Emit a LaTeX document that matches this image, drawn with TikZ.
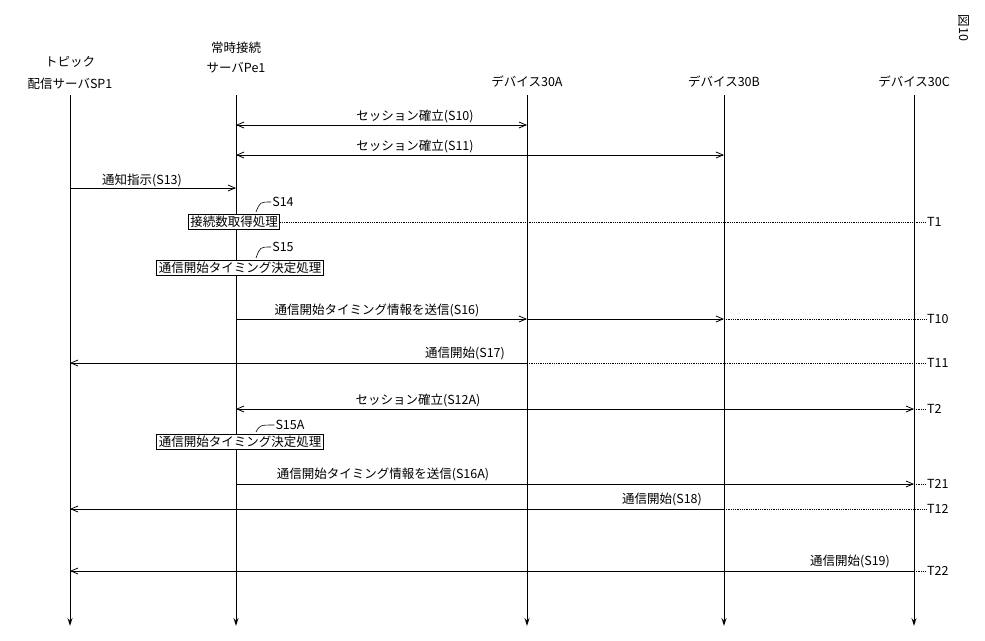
\documentclass[tikz,border=0pt]{standalone}
\usepackage{fontspec}
\setmainfont{Noto Sans CJK JP}
\usetikzlibrary{arrows.meta}
\begin{document}
\begin{tikzpicture}[x=1pt,y=-1pt,
  lbl/.style={font=\fontsize{12.5}{14}\selectfont,inner sep=1pt},
  life/.style={line width=0.9pt,-{Stealth[length=8pt,width=5pt,open]}},
  msg/.style={line width=0.8pt,-{Straight Barb[length=7pt,width=6pt]}},
  dmsg/.style={line width=0.8pt,{Straight Barb[length=7pt,width=6pt]}-{Straight Barb[length=7pt,width=6pt]}},
  dot/.style={line width=0.8pt,densely dotted},
  box/.style={draw,line width=0.8pt,fill=white,font=\fontsize{12.5}{14}\selectfont,inner sep=2pt}]
\useasboundingbox (0,0) rectangle (985,640);
% headers
\node[lbl] (h1a) at (70,62) {トピック};
\node[lbl] (h1b) at (70,84) {配信サーバSP1};
\node[lbl] (h2a) at (236,48) {常時接続};
\node[lbl] (h2b) at (236,68) {サーバPe1};
\node[lbl] (h3) at (527,82) {デバイス30A};
\node[lbl] (h4) at (724,82) {デバイス30B};
\node[lbl] (h5) at (914,82) {デバイス30C};
\node[lbl,rotate=-90] (fig) at (964,28) {図10};
% lifelines
\foreach \n/\x in {a/70,b/236,c/527,d/724,e/914}{
  \coordinate (\n0) at (\x,95); \coordinate (\n1) at (\x,626);
  \draw[life] (\n0) -- (\n1);}
% T labels
\foreach \n/\y/\t in {t1/222/T1,t10/319/T10,t11/363/T11,t2/409/T2,t21/484/T21,t12/509/T12,t22/571/T22}{
  \node[lbl,anchor=west] (\n) at (926,\y) {\t};}
% S10
\coordinate (s10a) at (236,125); \coordinate (s10b) at (527,125);
\draw[dmsg] (s10a) -- (s10b);
\node[lbl] (l10) at (415,116) {セッション確立(S10)};
\coordinate (s11a) at (236,155); \coordinate (s11b) at (724,155);
\draw[dmsg] (s11a) -- (s11b);
\node[lbl] (l11) at (415,146) {セッション確立(S11)};
\coordinate (s13a) at (70,188); \coordinate (s13b) at (236,188);
\draw[msg] (s13a) -- (s13b);
\node[lbl] (l13) at (142,180) {通知指示(S13)};
% S14
\node[box] (b14) at (234,222) {接続数取得処理};
\draw[dot] (b14.east) -- (t1.west);
\node[lbl] (l14) at (283,202) {S14};
\draw[line width=0.6pt] (l14.west) .. controls (260,202) .. (256,212);
% S15
\node[box] (b15) at (240,268) {通信開始タイミング決定処理};
\node[lbl] (l15) at (283,247) {S15};
\draw[line width=0.6pt] (l15.west) .. controls (260,247) .. (256,258);
% S16
\coordinate (s16a) at (236,319); \coordinate (s16b) at (527,319); \coordinate (s16c) at (724,319);
\draw[msg] (s16a) -- (s16b);
\draw[msg] (s16b) -- (s16c);
\draw[dot] (s16c) -- (t10.west);
\node[lbl] (l16) at (377,310) {通信開始タイミング情報を送信(S16)};
% S17
\coordinate (s17a) at (527,363); \coordinate (s17b) at (70,363);
\draw[msg] (s17a) -- (s17b);
\draw[dot] (s17a) -- (t11.west);
\node[lbl] (l17) at (465,353) {通信開始(S17)};
% S12A
\coordinate (s12a) at (236,409); \coordinate (s12b) at (914,409);
\draw[dmsg] (s12a) -- (s12b);
\draw[dot] (s12b) -- (t2.west);
\node[lbl] (l12) at (418,400) {セッション確立(S12A)};
% S15A
\node[box] (b15a) at (240,442) {通信開始タイミング決定処理};
\node[lbl] (l15a) at (290,425) {S15A};
\draw[line width=0.6pt] (l15a.west) .. controls (260,425) .. (256,432);
% S16A
\coordinate (s16d) at (236,484); \coordinate (s16e) at (914,484);
\draw[msg] (s16d) -- (s16e);
\draw[dot] (s16e) -- (t21.west);
\node[lbl] (l16a) at (383,474) {通信開始タイミング情報を送信(S16A)};
% S18
\coordinate (s18a) at (724,509); \coordinate (s18b) at (70,509);
\draw[msg] (s18a) -- (s18b);
\draw[dot] (s18a) -- (t12.west);
\node[lbl] (l18) at (662,499) {通信開始(S18)};
% S19
\coordinate (s19a) at (914,571); \coordinate (s19b) at (70,571);
\draw[msg] (s19a) -- (s19b);
\draw[dot] (s19a) -- (t22.west);
\node[lbl] (l19) at (850,561) {通信開始(S19)};
\end{tikzpicture}
\end{document}
